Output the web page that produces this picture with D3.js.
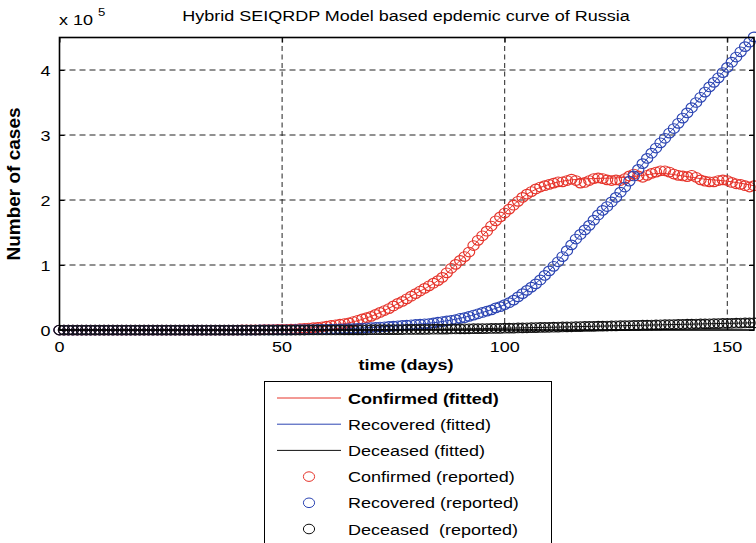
<!DOCTYPE html>
<html>
<head>
<meta charset="utf-8">
<script src="https://cdn.jsdelivr.net/npm/d3@7"></script>
<style>
  body { margin: 0; background: #fff; }
  svg { display: block; font-family: Arial, "Liberation Sans", sans-serif; }
  text { white-space: pre; }
</style>
</head>
<body>
<svg id="chart" width="756" height="543"></svg>
<script>
// reported counts, in thousands of cases, one value per day starting at day 0
const confirmedReported = [
  0,0,0,0,0,0,0,0,0,0, 0,0,0,0,0,0,0,0,0,0, 0,0,0,0,0,0,0,0,0,0, 0,0,0,0,0,0,0,0,0,0,
  0, 0.1,0.1,0.2,0.2,0.3,0.4,0.5,0.6,0.8,
  1.0,1.0,1.2,1.5,2.0,2.5,3,3.5,4,5,
  6,7,8,9,10,11,13,15,17,19,
  21,24,27,30,33,37,41,44,48,52,
  56,60,64,68,72,76,81,88,95,101,
  107,113,120,130,138,145,152,160,168,174,
  180,186,192,198,204,209,213,217,220,222,
  224,226,228,228,230,232,230,226,227,230,
  233,234,233,231,230,231,230,233,237,240,
  237,235,238,241,243,245,245,243,240,238,
  237,236,238,235,231,229,228,228,230,231,
  230,227,225,224,222,220,222
];
const recoveredReported = [
  0,0,0,0,0,0,0,0,0,0, 0,0,0,0,0,0,0,0,0,0, 0,0,0,0,0,0,0,0,0,0, 0,0,0,0,0,0,0,0,0,0,
  0, 0,0,0,0,0.1,0.1,0.1,0.1,0.2,
  0.2,0.3,0.3,0.4,0.5,0.5,0.6,0.7,0.8,0.9,
  1.0,1.2,1.4,1.6,1.8,2.0,2.3,2.6,3.0,3.4,
  3.8,4.2,4.6,5.0,5.5,6,6.5,7,7.5,8,
  8.5,9,9.5,10,11,12,13,14,15,16,
  18,19,21,23,25,27,29,31,34,36,
  39,42,46,51,56,61,66,71,77,84,
  91,98,105,113,122,131,140,147,154,161,
  169,177,184,190,197,204,212,220,229,237,
  247,256,264,272,280,288,295,303,310,318,
  326,334,342,350,358,366,374,381,388,396,
  404,412,420,428,436,443,451
];
const deceasedReported = [
  0,0,0,0,0,0,0,0,0,0, 0,0,0,0,0,0,0,0,0,0, 0,0,0,0,0,0,0,0,0,0, 0,0,0,0,0,0,0,0,0,0,
  0,0,0,0,0,0,0,0,0,0, 0,0,0,0,0,0,
  0.03,0.04,0.05,0.06,
  0.08,0.1,0.12,0.14,0.17,0.2,0.23,0.27,0.31,0.36,
  0.4,0.45,0.5,0.55,0.6,0.65,0.7,0.75,0.8,0.86,
  0.92,0.98,1.05,1.12,1.2,1.28,1.36,1.45,1.54,1.63,
  1.72,1.8,1.9,2.0,2.1,2.2,2.3,2.4,2.5,2.6,
  2.7,2.85,3.0,3.15,3.3,3.45,3.6,3.75,3.9,4.05,
  4.2,4.35,4.5,4.65,4.8,4.95,5.1,5.25,5.4,5.55,
  5.7,5.85,6.0,6.15,6.3,6.45,6.6,6.75,6.9,7.05,
  7.2,7.35,7.5,7.65,7.8,7.95,8.1,8.25,8.4,8.55,
  8.7,8.85,9.0,9.15,9.3,9.45,9.6,9.75,9.9,10.05,
  10.2,10.35,10.5,10.65,10.8,10.95,11.1
];

// model output, thousands of cases
const fitDays = [0,10,20,30,40,50,55,60,65,70,75,80,85,90,95,100,105,110,115,120,125,130,135,140,145,150,156];
const confirmedFitted = [0,0,0,0,0,1,2.5,6,11,21,37,56,76,107,145,180,209,224,231,233,234,237,241,237,232,229,222];
const recoveredFitted = [0,0,0,0,0,0.2,0.5,1,2,3.8,6,8.5,12,18,27,39,61,91,131,169,204,247,288,326,366,404,451];
const deceasedFitted = [0,0,0,0,0,0,0,0.08,0.2,0.4,0.65,0.92,1.28,1.72,2.2,2.7,3.45,4.2,4.95,5.7,6.45,7.2,7.95,8.7,9.45,10.2,11.1];

const xTicks = [0, 50, 100, 150];
const yTicks = [0, 100, 200, 300, 400];
const legendLabels = [
  "Confirmed (fitted)", "Recovered (fitted)", "Deceased (fitted)",
  "Confirmed (reported)", "Recovered (reported)", "Deceased  (reported)"
];

const RED = "#e6342b", BLUE = "#2c45b3", BLACK = "#111";
const SX = 1.2; // text is drawn a bit wide
const FS = 15;

const svg = d3.select("#chart");
const margin = { left: 59.5, top: 37.5, right: 2, bottom: 213 };
const W = 756, H = 543;
const x = d3.scaleLinear().domain([0, 156]).range([margin.left, W - margin.right]);
const y = d3.scaleLinear().domain([0, 450]).range([H - margin.bottom, margin.top]);

function label(g, px, py, txt, anchor, size, bold) {
  return g.append("text")
    .attr("transform", `translate(${px},${py}) scale(${SX},1)`)
    .attr("text-anchor", anchor || "start")
    .attr("font-size", size || FS)
    .attr("font-weight", bold ? "bold" : null)
    .attr("fill", "#000")
    .text(txt);
}

//grid
const grid = svg.append("g").attr("stroke", "#222").attr("stroke-width", 1);
grid.selectAll(".gx").data(xTicks.slice(1)).join("line")
  .attr("x1", d => x(d)).attr("x2", d => x(d))
  .attr("y1", y(450)).attr("y2", y(0))
  .attr("stroke-dasharray", "5,3.5");
grid.selectAll(".gy").data(yTicks.slice(1)).join("line")
  .attr("x1", x(0)).attr("x2", x(156))
  .attr("y1", d => y(d)).attr("y2", d => y(d))
  .attr("stroke-dasharray", "6,4");

//fitted lines
const line = d3.line().x((d, i) => x(fitDays[i])).y(d => y(d)).curve(d3.curveMonotoneX);
[[confirmedFitted, RED], [recoveredFitted, BLUE], [deceasedFitted, BLACK]].forEach(([vals, c]) => {
  svg.append("path").attr("d", line(vals)).attr("fill", "none").attr("stroke", c).attr("stroke-width", 1);
});

//reported markers
[[confirmedReported, RED], [recoveredReported, BLUE], [deceasedReported, BLACK]].forEach(([vals, c]) => {
  svg.append("g").selectAll("ellipse").data(vals).join("ellipse")
    .attr("cx", (d, i) => x(i)).attr("cy", d => y(d))
    .attr("rx", 5.6).attr("ry", 4.8)
    .attr("fill", "none").attr("stroke", c).attr("stroke-width", 1.15);
});

//axes box and ticks
const axes = svg.append("g");
axes.append("g").attr("transform", `translate(0,${y(0)})`)
  .call(d3.axisBottom(x).tickValues(xTicks).tickSize(-5).tickSizeOuter(0).tickFormat(""));
axes.append("g").attr("transform", `translate(0,${y(450)})`)
  .call(d3.axisTop(x).tickValues(xTicks).tickSize(-5).tickSizeOuter(0).tickFormat(""));
axes.append("g").attr("transform", `translate(${x(0)},0)`)
  .call(d3.axisLeft(y).tickValues(yTicks).tickSize(-5).tickSizeOuter(0).tickFormat(""));
axes.append("g").attr("transform", `translate(${x(156)},0)`)
  .call(d3.axisRight(y).tickValues(yTicks).tickSize(-5).tickSizeOuter(0).tickFormat(""));
axes.selectAll(".domain").remove();
axes.selectAll(".tick line").attr("stroke", "#000");
axes.append("rect")
  .attr("x", x(0)).attr("y", y(450))
  .attr("width", x(156) - x(0)).attr("height", y(0) - y(450))
  .attr("fill", "none").attr("stroke", "#000").attr("stroke-width", 1.6);

//tick labels
const labels = svg.append("g");
xTicks.forEach(t => label(labels, x(t), 352, String(t), "middle"));
yTicks.forEach(t => label(labels, 50.5, y(t) + 5.5, String(t / 100), "end"));
label(labels, 59, 25, "x 10");
label(labels, 98, 16, "5", "start", 11);

//title and axis labels
label(labels, 406, 21, "Hybrid SEIQRDP Model based epdemic curve of Russia", "middle");
label(labels, 406, 370, "time (days)", "middle", FS, true);
labels.append("text")
  .attr("transform", "translate(20,184) rotate(-90)")
  .attr("text-anchor", "middle").attr("font-size", 19).attr("font-weight", "bold")
  .text("Number of cases");

//legend
const lg = svg.append("g");
lg.append("rect").attr("x", 264.5).attr("y", 381.5).attr("width", 287).attr("height", 200)
  .attr("fill", "#fff").attr("stroke", "#000").attr("stroke-width", 1);
const rowY = d3.scalePoint().domain(d3.range(6)).range([398, 529]);
const colors = [RED, BLUE, BLACK, RED, BLUE, BLACK];
legendLabels.forEach((txt, i) => {
  const cy = rowY(i);
  if (i < 3) {
    lg.append("line").attr("x1", 277).attr("x2", 341).attr("y1", cy).attr("y2", cy)
      .attr("stroke", colors[i]).attr("stroke-width", 1);
  } else {
    lg.append("ellipse").attr("cx", 309).attr("cy", cy).attr("rx", 5.6).attr("ry", 4.8)
      .attr("fill", "none").attr("stroke", colors[i]).attr("stroke-width", 1);
  }
  label(lg, 348, cy + 5.5, txt, "start", FS, i === 0);
});
</script>
</body>
</html>
